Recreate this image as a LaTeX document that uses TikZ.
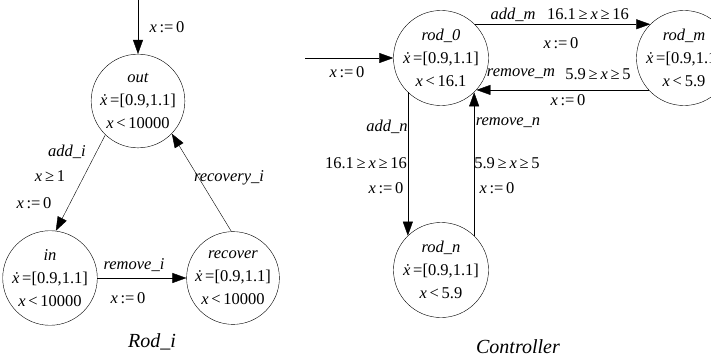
\documentclass[tikz,border=0pt]{standalone}
\usepackage{fontspec}
\setmainfont{Liberation Serif}
\usetikzlibrary{arrows.meta}
\newcommand{\xv}{\textit{x}}
\newcommand{\xd}{\textit{\.{x}}}
\newcommand{\reset}{\xv\,:=\,0}

\begin{document}
\begin{tikzpicture}[x=1pt, y=-1pt,
	every node/.style={font=\fontsize{16.5}{23}\selectfont, inner sep=0pt},
	loc/.style={circle, draw, minimum size=84pt, align=center},
	ttl/.style={font=\fontsize{20}{24}\selectfont\itshape},
	>={Triangle[length=14pt,width=10pt]}
	]
	\clip (0,0) rectangle (711,361);

	% Rod_i
	\node[loc] (out) at (138,101) {\textit{out}\\ \xd\,=[0.9,1.1]\\ \xv\,<\,10000};
	\node[loc] (in) at (50,278) {\textit{in}\\ \xd\,=[0.9,1.1]\\ \xv\,<\,10000};
	\node[loc] (recover) at (233,278) {\textit{recover}\\ \xd\,=[0.9,1.1]\\ \xv\,<\,10000};
	\coordinate (start) at (138,0);

	\draw[->] (start) -- (out);
	\draw[->] (out.-134) -- (in.83);
	\draw[->] (in) -- (recover);
	\draw[->] (recover.92) -- (out.-44);

	\node (initreset) at (167,27) {\reset};
	\node (addi) at (67,152) {\textit{add\_i}};
	\node (addiguard) at (50,176) {\xv\,≥\,1};
	\node (addireset) at (34,203) {\reset};
	\node (recoveryi) at (229,178) {\textit{recovery\_i}};
	\node (removei) at (134,265) {\textit{remove\_i}};
	\node (removeireset) at (128,298) {\reset};
	\node[ttl] (rodi) at (152,342) {Rod\_i};

	% Controller
	\node[loc] (rod0) at (441,58) {\textit{rod\_0}\\ \xd\,=[0.9,1.1]\\ \xv\,<\,16.1};
	\node[loc] (rodm) at (684,58) {\textit{rod\_m}\\ \xd\,=[0.9,1.1]\\ \xv\,<\,5.9};
	\node[loc] (rodn) at (441,270) {\textit{rod\_n}\\ \xd\,=[0.9,1.1]\\ \xv\,<\,5.9};
	\coordinate (cstart) at (305,58);

	\draw[->] (cstart) -- (rod0);
	\draw[->] (rod0.45) -- (rodm.135);
	\draw[->] (rodm.-138) -- (rod0.-42);
	\draw[->] (rod0.-134) -- (rodn.134);
	\draw[->] (rodn.46) -- (rod0.-46);

	\node (cinitreset) at (347,72) {\reset};
	\node (addm) at (513,15) {\textit{add\_m}};
	\node (addmguard) at (588,14) {16.1\,≥\,\xv\,≥\,16};
	\node (addmreset) at (561,43) {\reset};
	\node (removem) at (521,74) {\textit{remove\_m}};
	\node (removemguard) at (598,74) {5.9\,≥\,\xv\,≥\,5};
	\node (removemreset) at (568,100) {\reset};
	\node (addn) at (387,127) {\textit{add\_n}};
	\node (addnguard) at (366,163) {16.1\,≥\,\xv\,≥\,16};
	\node (addnreset) at (386,188) {\reset};
	\node (removen) at (508,123) {\textit{remove\_n}};
	\node (removenguard) at (507,163) {5.9\,≥\,\xv\,≥\,5};
	\node (removenreset) at (497,188) {\reset};
	\node[ttl] (controller) at (518,347) {Controller};
\end{tikzpicture}
\end{document}
